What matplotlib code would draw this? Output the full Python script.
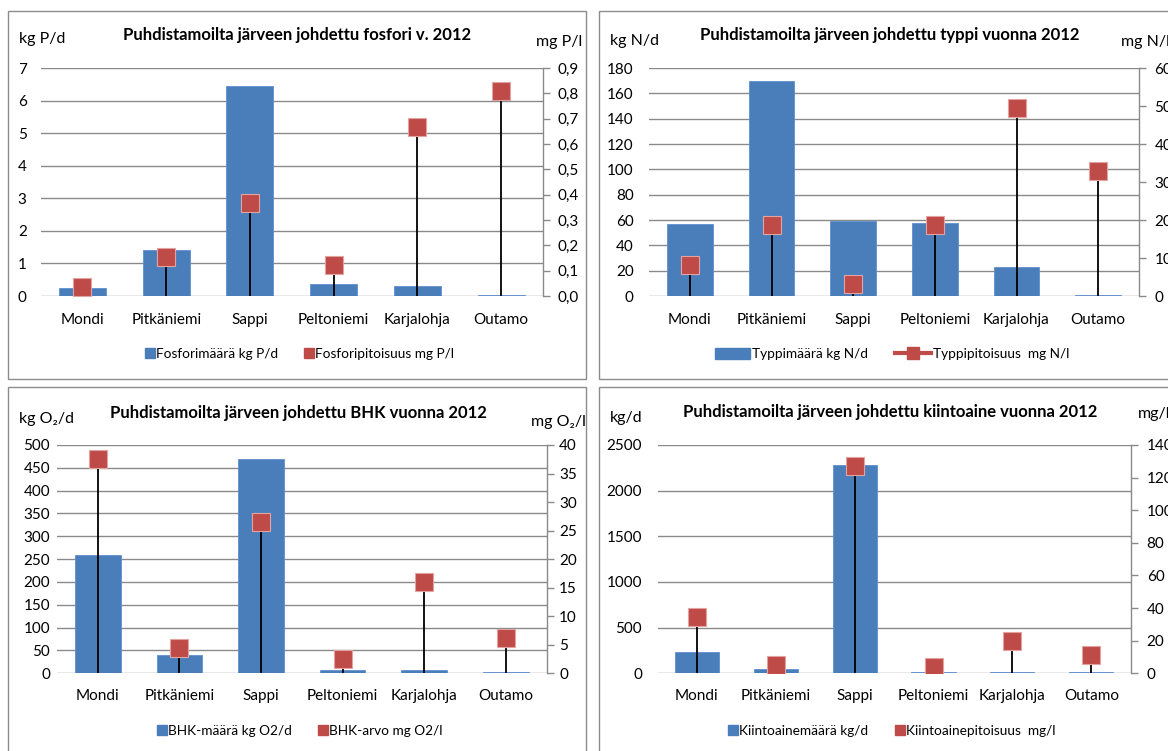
import matplotlib
matplotlib.use("Agg")
import matplotlib.pyplot as plt
from matplotlib.lines import Line2D
from matplotlib.patches import Rectangle, Patch
from matplotlib.ticker import FuncFormatter, MultipleLocator

plt.rcParams['font.family'] = ['Lato', 'DejaVu Sans']

categories = ["Mondi", "Pitkäniemi", "Sappi", "Peltoniemi", "Karjalohja", "Outamo"]

# Panel 1: phosphorus
p_load = [0.25, 1.40, 6.45, 0.37, 0.30, 0.03]
p_conc = [0.037, 0.153, 0.368, 0.121, 0.668, 0.809]
# Panel 2: nitrogen
n_load = [56.8, 170.0, 59.0, 58.0, 22.6, 0.8]
n_conc = [8.2, 18.8, 3.2, 18.8, 49.6, 32.9]
# Panel 3: BOD
bhk_load = [258, 39.4, 468.7, 6.6, 6.6, 3.5]
bhk_conc = [37.5, 4.4, 26.5, 2.45, 16.0, 6.2]
# Panel 4: suspended solids
ss_load = [236, 44, 2284, 15, 15, 15]
ss_conc = [34.3, 5.1, 127.3, 3.7, 20.0, 11.0]

W, H = 1168, 751
BLUE = '#4a7ebb'
RED = '#be4b48'
GRID = '#8a8a8a'
TICK_FS = 11
UNIT_FS = 11.5

fig = plt.figure(figsize=(W / 100, H / 100), dpi=100)

def fx(x):
    return x / W

def fy(y):
    return 1 - y / H

# Panel borders
for (x0, y0, x1, y1) in [(8, 11, 586, 379), (599, 11, 1180, 379),
                         (8, 387, 586, 760), (599, 387, 1180, 760)]:
    fig.patches.append(Rectangle((fx(x0), fy(y1)), fx(x1 - x0), (y1 - y0) / H,
                                 transform=fig.transFigure, fill=False,
                                 edgecolor='#8c8c8c', lw=1.0, zorder=0))


def comma_fmt(decimals):
    def f(v, pos):
        return f"{v:.{decimals}f}".replace('.', ',')
    return FuncFormatter(f)


def panel(box, loads, concs, lmax, lstep, rmax, rstep, rdec, title, tpos,
          ulab, upos, urlab, urpos, leg_labels, legpos, lpad, rpad, xpad,
          line_legend=False):
    x0, y0, x1, y1 = box
    ax = fig.add_axes([fx(x0), fy(y1), fx(x1 - x0), (y1 - y0) / H])
    xs = list(range(len(categories)))
    ax.bar(xs, loads, width=0.56, color=BLUE, edgecolor='#5f90cf', lw=0.6, zorder=2)
    ax.set_xlim(-0.5, len(categories) - 0.5)
    ax.set_ylim(0, lmax)
    ax.yaxis.set_major_locator(MultipleLocator(lstep))
    ax.grid(axis='y', color=GRID, lw=1.0, zorder=0)
    ax.set_axisbelow(True)
    for s in ['top', 'left', 'right', 'bottom']:
        ax.spines[s].set_visible(False)
    ax.tick_params(axis='y', length=0, pad=lpad, labelsize=TICK_FS, labelcolor='black')
    ax.tick_params(axis='x', length=0, pad=xpad, labelsize=TICK_FS)
    ax.set_xticks(xs)
    ax.set_xticklabels(categories)

    ax2 = ax.twinx()
    ax2.set_ylim(0, rmax)
    ax2.yaxis.set_major_locator(MultipleLocator(rstep))
    ax2.yaxis.set_major_formatter(comma_fmt(rdec))
    for s in ['top', 'left', 'bottom']:
        ax2.spines[s].set_visible(False)
    ax2.spines['right'].set_color(GRID)
    ax2.spines['right'].set_linewidth(1.0)
    ax2.tick_params(axis='y', direction='out', length=5, color=GRID, width=1.0,
                    pad=rpad, labelsize=TICK_FS)
    ax2.vlines(xs, 0, concs, color='black', lw=1.3, zorder=3)
    ax2.plot(xs, concs, ls='none', marker='s', markersize=13, color=RED,
             markeredgecolor='#e3a3a1', markeredgewidth=0.8, zorder=4)

    fig.text(fx(tpos[0]), fy(tpos[1]), title, ha='center', va='center',
             fontsize=12, fontweight='bold')
    fig.text(fx(upos[0]), fy(upos[1]), ulab, ha='left', va='center', fontsize=UNIT_FS)
    fig.text(fx(urpos[0]), fy(urpos[1]), urlab, ha='left', va='center', fontsize=UNIT_FS)

    if line_legend:
        handles = [Patch(facecolor=BLUE, edgecolor=BLUE),
                   Line2D([], [], color=RED, lw=3, marker='s', markersize=9,
                          markerfacecolor=RED, markeredgecolor=RED)]
        hl = 2.6
    else:
        handles = [Line2D([], [], ls='none', marker='s', markersize=7.5, color=BLUE),
                   Line2D([], [], ls='none', marker='s', markersize=7.5, color=RED)]
        hl = 0.6
    fig.legend(handles, leg_labels, loc='center',
               bbox_to_anchor=(fx(legpos[0]), fy(legpos[1])), ncol=2,
               frameon=False, fontsize=9.8, handlelength=hl, handletextpad=0.15,
               columnspacing=2.0, borderpad=0, handleheight=0.9)
    return ax, ax2


panel((40.6, 68, 543, 296), p_load, p_conc, 7, 1, 0.9, 0.1, 1,
      "Puhdistamoilta järveen johdettu fosfori v. 2012", (297, 35),
      "kg P/d", (19, 39), "mg P/l", (536, 42),
      ["Fosforimäärä kg P/d", "Fosforipitoisuus mg P/l"], (300, 354), 10, 5.8, 12)

panel((649, 68, 1139, 296), n_load, n_conc, 180, 20, 60, 10, 0,
      "Puhdistamoilta järveen johdettu typpi vuonna 2012", (890, 35),
      "kg N/d", (610, 41), "mg N/l", (1121, 42),
      ["Typpimäärä kg N/d", "Typpipitoisuus  mg N/l"], (892, 354), 11, 6.2, 12,
      line_legend=True)

panel((57, 445, 546.5, 673.3), bhk_load, bhk_conc, 500, 50, 40, 5, 0,
      "Puhdistamoilta järveen johdettu BHK vuonna 2012", (298, 413),
      "kg O₂/d", (19, 419), "mg O₂/l", (531, 422),
      ["BHK-määrä kg O2/d", "BHK-arvo mg O2/l"], (300, 731), 5, 4, 11)

panel((657.5, 445, 1130.7, 673.3), ss_load, ss_conc, 2500, 500, 140, 20, 0,
      "Puhdistamoilta järveen johdettu kiintoaine vuonna 2012", (890, 412),
      "kg/d", (610, 418), "mg/l", (1138, 414),
      ["Kiintoainemäärä kg/d", "Kiintoainepitoisuus  mg/l"], (892, 731), 11, 6.5, 11)

fig.savefig("out.png", dpi=100)
